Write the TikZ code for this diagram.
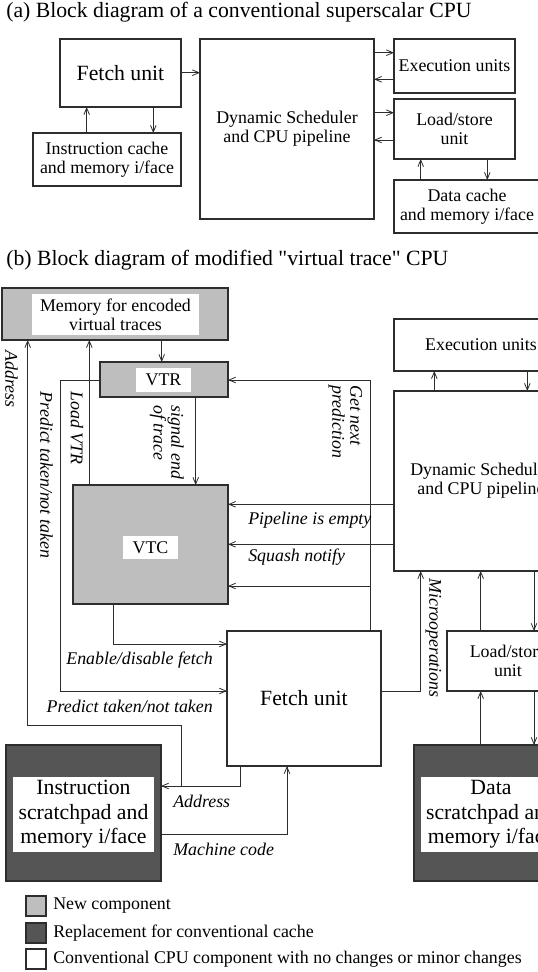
\documentclass[tikz,border=0pt]{standalone}
\usepackage{fontspec}
\setmainfont{Liberation Serif}[Ligatures=TeXOff]
\usetikzlibrary{arrows.meta,fit}
\definecolor{lgray}{RGB}{190,190,190}
\definecolor{dgray}{RGB}{85,85,85}
\definecolor{edge}{RGB}{45,45,45}
\newcommand\ftxt{\fontsize{13.4}{14.4}\selectfont}
\newcommand\fbig{\fontsize{16.3}{18.4}\selectfont}
\newcommand\ftitle{\fontsize{16.3}{18}\selectfont}
\newcommand\flbl{\fontsize{13.4}{12}\selectfont\itshape}
\begin{document}
\begin{tikzpicture}[x=0.75pt,y=-0.75pt,
  box/.style={draw=edge,line width=0.8pt,inner sep=0pt,outer sep=0pt},
  inbox/.style={fill=white,inner sep=0pt,outer sep=0pt},
  txt/.style={font=\ftxt,align=center,inner sep=0pt},
  big/.style={font=\fbig,align=center,inner sep=0pt},
  ttl/.style={font=\ftitle,inner sep=0pt,anchor=base west},
  lbl/.style={font=\flbl,inner sep=0pt},
  conn/.style={draw=edge,line width=0.6pt},
  arr/.style={conn,-{Straight Barb[length=5pt,width=4.2pt]}}]
\fill[white] (0,0) rectangle (538,972);
\useasboundingbox (0,0) rectangle (538,972);

% ---------- (a) ----------
\node[ttl] (ta) at (6,17) {(a) Block diagram of a conventional superscalar CPU};
\node[box,fit={(60,39)(181,107)}] (fetchA) {};
\node[big] (fetchAt) at (fetchA.center) {Fetch unit};
\node[box,fit={(33,133)(181,186)}] (icA) {};
\node[txt] (icAt) at (icA.center) {Instruction cache\\and memory i/face};
\node[box,fit={(200,39)(374,219)}] (schA) {};
\node[txt] (schAt) at (schA.center) {Dynamic Scheduler\\and CPU pipeline};
\node[box,fit={(394,39)(515,93)}] (exA) {};
\node[txt] (exAt) at (exA.center) {Execution units};
\node[box,fit={(394,99)(515,159)}] (lsA) {};
\node[txt] (lsAt) at (lsA.center) {Load/store\\unit};
\node[box,fit={(394,180)(540,233)}] (dcA) {};
\node[txt] (dcAt) at (dcA.center) {Data cache\\and memory i/face};

\draw[arr] (fetchA.east |- 0,72.7) -- (schA.west |- 0,72.7);
\draw[arr] (schA.east |- 0,52.7) -- (exA.west |- 0,52.7);
\draw[arr] (exA.west |- 0,79.3) -- (schA.east |- 0,79.3);
\draw[arr] (schA.east |- 0,112.7) -- (lsA.west |- 0,112.7);
\draw[arr] (lsA.west |- 0,140) -- (schA.east |- 0,140);
\draw[arr] (86.7,0 |- icA.north) -- (86.7,0 |- fetchA.south);
\draw[arr] (153.3,0 |- fetchA.south) -- (153.3,0 |- icA.north);
\draw[arr] (420.7,0 |- dcA.north) -- (420.7,0 |- lsA.south);
\draw[arr] (487.3,0 |- lsA.south) -- (487.3,0 |- dcA.north);

% ---------- (b) ----------
\node[ttl] (tb) at (6,265) {(b) Block diagram of modified "virtual trace" CPU};

\node[box,fill=lgray,fit={(2,288)(228,340)}] (mem) {};
\node[inbox,fit={(32,294)(199,335)}] (memin) {};
\node[txt] (memt) at (memin.center) {Memory for encoded\\virtual traces};

\node[box,fill=lgray,fit={(100,362)(228,397)}] (vtr) {};
\node[inbox,fit={(136,368)(191,392)}] (vtrin) {};
\node[txt] (vtrt) at (vtrin.center) {VTR};

\node[box,fill=lgray,fit={(73,485)(228,604)}] (vtc) {};
\node[inbox,fit={(123,536)(178,559)}] (vtcin) {};
\node[txt] (vtct) at (vtcin.center) {VTC};

\node[box,fit={(394,319)(568,371)}] (exB) {};
\node[txt] (exBt) at (exB.center) {Execution units};
\node[box,fit={(394,391)(568,571)}] (schB) {};
\node[txt] (schBt) at (schB.center) {Dynamic Scheduler\\and CPU pipeline};
\node[box,fit={(447,631)(569,691)}] (lsB) {};
\node[txt] (lsBt) at (lsB.center) {Load/store\\unit};
\node[box,fit={(227,631)(381,766)}] (fetchB) {};
\node[big] (fetchBt) at (fetchB.center) {Fetch unit};

\node[box,fill=dgray,fit={(6,745)(161,881)}] (is) {};
\node[inbox,fit={(13,777)(154,852)}] (isin) {};
\node[big] (ist) at (isin.center) {Instruction\\scratchpad and\\memory i/face};
\node[box,fill=dgray,fit={(414,745)(568,881)}] (ds) {};
\node[inbox,fit={(421,777)(561,852)}] (dsin) {};
\node[big] (dst) at (dsin.center) {Data\\scratchpad and\\memory i/face};

% connectors
\coordinate (gnpbr) at (370,586);
\draw[arr] (161.7,0 |- mem.south) -- (161.7,0 |- vtr.north);
\draw[arr] (vtr.west |- 0,380) -| (60,691) -- (fetchB.west |- 0,691);
\draw[arr] (89.3,0 |- vtc.north) -- (89.3,0 |- mem.south);
\draw[arr] (195.7,0 |- vtr.south) -- (195.7,0 |- vtc.north);
\draw[arr] (370,0 |- fetchB.north) |- (vtr.east |- 0,380);
\draw[arr] (gnpbr) -- (vtc.east |- gnpbr);
\draw[arr] (schB.west |- 0,504.3) -- (vtc.east |- 0,504.3);
\draw[arr] (schB.west |- 0,544.3) -- (vtc.east |- 0,544.3);
\draw[arr] (113.3,0 |- vtc.south) |- (fetchB.west |- 0,644);
\draw[arr] (240,0 |- fetchB.south) |- (is.east |- 0,786);
\draw[arr] (181,786) |- (27.7,725) -- (27.7,0 |- mem.south);
\draw[arr] (is.east |- 0,834) -| (287,0 |- fetchB.south);
\draw[arr] (fetchB.east |- 0,691.7) -| (420.7,0 |- schB.south);
\draw[arr] (434.3,0 |- schB.north) -- (434.3,0 |- exB.south);
\draw[arr] (527.3,0 |- exB.south) -- (527.3,0 |- schB.north);
\draw[arr] (480.7,0 |- lsB.north) -- (480.7,0 |- schB.south);
\draw[arr] (534,0 |- schB.south) -- (534,0 |- lsB.north);
\draw[arr] (480.7,0 |- ds.north) -- (480.7,0 |- lsB.south);
\draw[arr] (534,0 |- lsB.south) -- (534,0 |- ds.north);

% labels
\node[lbl,rotate=-90] (lAddrV) at (11.5,379) {Address};
\node[lbl,rotate=-90] (lPredV) at (46.5,475) {Predict taken/not taken};
\node[lbl,rotate=-90] (lLoad) at (77,428) {Load VTR};
\node[lbl,rotate=-90,anchor=north west,align=left] (lSig) at (184,405) {signal end\\of trace};
\node[lbl,rotate=-90,anchor=north west,align=left,font=\fontsize{13.4}{13.6}\selectfont\itshape] (lGet) at (362.5,385) {Get next\\prediction};
\node[lbl,rotate=-90,anchor=north west] (lMicro) at (441.5,578) {Microoperations};
\node[lbl,anchor=west] (lPipe) at (248,520) {Pipeline is empty};
\node[lbl,anchor=west] (lSq) at (248,557.5) {Squash notify};
\node[lbl,anchor=east] (lEn) at (213,660) {Enable/disable fetch};
\node[lbl,anchor=east] (lPredH) at (213,706.7) {Predict taken/not taken};
\node[lbl,anchor=west] (lAddrH) at (173,801) {Address};
\node[lbl,anchor=west] (lMach) at (173,849) {Machine code};

% legend
\node[box,fill=lgray,fit={(26,896)(46,916)}] (lg1) {};
\node[txt,anchor=west] (lg1t) at (53,906) {New component};
\node[box,fill=dgray,fit={(26,923)(46,943)}] (lg2) {};
\node[txt,anchor=west] (lg2t) at (53,933) {Replacement for conventional cache};
\node[box,fit={(26,949)(46,969)}] (lg3) {};
\node[txt,anchor=west] (lg3t) at (53,959) {Conventional CPU component with no changes or minor changes};
\end{tikzpicture}
\end{document}
